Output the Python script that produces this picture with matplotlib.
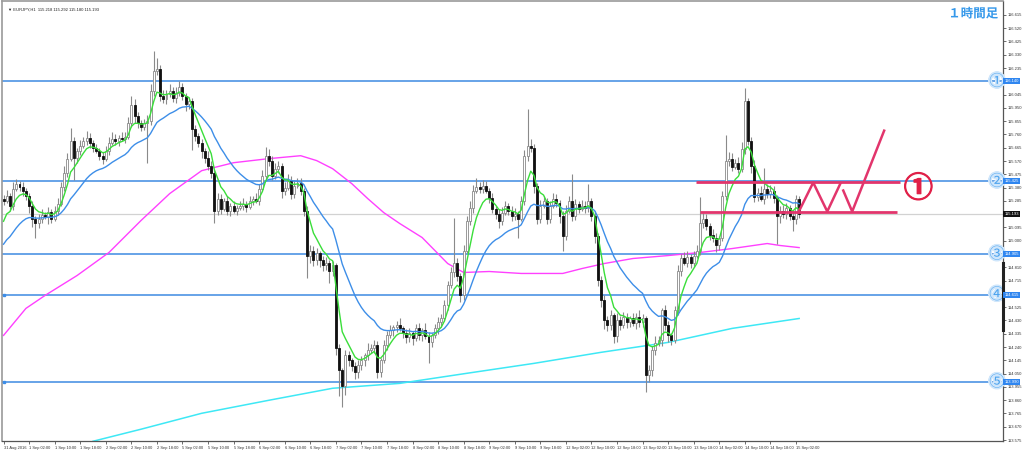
import numpy as np
import matplotlib
matplotlib.use("Agg")
import matplotlib.pyplot as plt
import matplotlib.transforms as mtransforms
import matplotlib.patheffects as pe
from matplotlib.patches import Rectangle

plt.rcParams['font.family'] = ['Liberation Sans', 'DejaVu Sans']

# ---------------- data ----------------
closes = [
 115.287,115.323,115.251,115.373,115.408,115.387,115.358,115.323,115.251,115.158,
 115.130,115.158,115.187,115.173,115.208,115.158,115.216,115.266,115.387,115.487,
 115.587,115.715,115.594,115.644,115.680,115.715,115.737,115.701,115.665,115.644,
 115.608,115.587,115.644,115.701,115.730,115.715,115.737,115.730,115.744,115.844,
 115.972,115.894,115.844,115.815,115.844,115.858,116.072,116.215,116.229,116.037,
 116.015,116.051,116.072,116.022,116.058,116.101,116.037,115.980,116.001,115.801,
 115.751,115.701,115.644,115.594,115.537,115.487,115.216,115.301,115.230,115.287,
 115.216,115.251,115.216,115.237,115.251,115.266,115.244,115.287,115.301,115.287,
 115.373,115.465,115.608,115.573,115.465,115.515,115.537,115.358,115.380,115.430,
 115.337,115.394,115.416,115.358,115.216,114.894,114.930,114.859,114.909,114.859,
 114.823,114.844,114.787,114.823,114.230,114.073,113.959,114.180,114.145,114.102,
 114.059,114.109,114.145,114.180,114.216,114.230,114.252,114.059,114.145,114.252,
 114.323,114.359,114.380,114.394,114.373,114.337,114.309,114.337,114.302,114.373,
 114.323,114.359,114.316,114.273,114.323,114.373,114.416,114.444,114.537,114.680,
 114.773,114.844,114.751,114.609,114.930,115.144,115.237,115.358,115.387,115.373,
 115.394,115.358,115.308,115.230,115.194,115.144,115.201,115.251,115.216,115.180,
 115.194,115.158,115.287,115.608,115.680,115.665,115.394,115.158,115.251,115.287,
 115.158,115.251,115.301,115.273,115.180,115.037,115.216,115.287,115.180,115.266,
 115.230,115.251,115.237,115.287,115.180,115.037,114.716,114.573,114.430,114.394,
 114.466,114.316,114.430,114.394,114.452,114.416,114.444,114.409,114.452,114.416,
 114.444,114.037,114.073,114.216,114.266,114.287,114.502,114.394,114.323,114.287,
 114.502,114.787,114.873,114.844,114.887,114.844,114.894,114.930,115.130,115.158,
 115.108,115.044,115.023,114.966,115.016,115.323,115.573,115.587,115.530,115.558,
 115.515,115.658,116.001,115.715,115.537,115.316,115.344,115.301,115.373,115.337,
 115.358,115.308,115.180,115.216,115.194,115.237,115.180,115.158,115.300,115.193,
]
first_open = 115.300

up_wick = [
 .03,.04,.02,.05,.03,.02,.03,.02,.02,.03,
 .02,.03,.04,.02,.03,.02,.03,.04,.03,.05,
 .04,.09,.03,.02,.04,.03,.05,.03,.02,.03,
 .02,.03,.03,.04,.05,.03,.02,.04,.03,.04,
 .06,.04,.03,.02,.03,.04,.05,.14,.08,.03,
 .04,.03,.05,.03,.04,.04,.03,.02,.03,.02,
 .03,.02,.03,.02,.05,.03,.02,.04,.03,.02,
 .03,.02,.03,.02,.03,.04,.02,.03,.02,.04,
 .03,.04,.06,.05,.03,.04,.03,.02,.04,.05,
 .03,.04,.03,.03,.02,.03,.04,.03,.04,.02,
 .03,.04,.02,.03,.02,.03,.02,.04,.03,.02,
 .03,.04,.03,.02,.05,.03,.04,.03,.02,.04,
 .03,.04,.02,.03,.05,.02,.03,.04,.02,.03,
 .04,.02,.05,.03,.02,.03,.04,.03,.04,.03,
 .04,.32,.03,.02,.04,.03,.05,.04,.06,.03,
 .04,.03,.02,.03,.02,.03,.04,.03,.02,.03,
 .04,.02,.03,.04,.26,.05,.03,.02,.04,.03,
 .02,.03,.04,.03,.02,.03,.04,.03,.19,.03,
 .02,.04,.03,.12,.02,.03,.02,.03,.04,.03,
 .04,.02,.05,.03,.04,.03,.02,.04,.03,.05,
 .03,.02,.04,.03,.05,.03,.02,.04,.03,.02,
 .03,.04,.03,.05,.04,.02,.03,.04,.18,.04,
 .03,.02,.04,.03,.02,.03,.18,.05,.04,.03,
 .04,.05,.09,.02,.03,.04,.03,.05,.15,.03,
 .04,.03,.02,.03,.04,.03,.02,.03,.03,.02,
]
down_wick = [
 .03,.02,.04,.03,.02,.03,.04,.03,.05,.06,
 .11,.04,.03,.02,.05,.03,.02,.03,.02,.03,
 .03,.02,.16,.04,.03,.02,.03,.04,.03,.02,
 .03,.04,.02,.03,.02,.03,.04,.02,.03,.02,
 .03,.05,.04,.03,.02,.29,.03,.04,.03,.04,
 .03,.04,.02,.03,.04,.02,.03,.05,.04,.15,
 .04,.03,.05,.04,.03,.04,.09,.03,.04,.02,
 .03,.04,.02,.03,.02,.03,.04,.02,.03,.02,
 .03,.02,.03,.04,.03,.02,.03,.05,.03,.02,
 .04,.03,.02,.03,.04,.16,.05,.04,.03,.05,
 .04,.03,.09,.04,.05,.18,.15,.06,.04,.03,
 .05,.04,.03,.04,.03,.02,.03,.04,.03,.02,
 .03,.02,.04,.03,.02,.03,.04,.03,.05,.02,
 .03,.04,.02,.15,.03,.02,.04,.03,.02,.03,
 .02,.03,.04,.05,.03,.02,.03,.04,.02,.03,
 .03,.02,.04,.03,.04,.05,.03,.02,.03,.04,
 .03,.14,.02,.03,.04,.03,.05,.04,.03,.02,
 .04,.03,.02,.03,.05,.11,.03,.02,.04,.03,
 .03,.02,.04,.03,.04,.05,.04,.05,.06,.04,
 .03,.05,.04,.03,.02,.04,.03,.02,.04,.03,
 .03,.12,.05,.04,.03,.02,.04,.03,.05,.03,
 .02,.03,.04,.02,.03,.04,.03,.02,.03,.04,
 .03,.04,.03,.05,.03,.02,.03,.04,.03,.02,
 .03,.02,.04,.03,.05,.04,.03,.02,.04,.03,
 .03,.04,.20,.05,.03,.04,.03,.09,.04,.03,
]

# moving averages: fast/medium seeded EMAs, slow lines
green_span, green_seed = 6, 115.08
blue_span, blue_seed = 21, 114.944
magenta_bars = [0, 7, 13, 23, 33, 43, 52, 62, 72, 83, 93, 98, 103, 109, 114, 119, 124,
                131, 135, 139, 144, 152, 162, 175, 181, 188, 197, 208, 218, 228, 239, 243, 249]
magenta_vals = [114.323, 114.516, 114.609, 114.751, 114.916, 115.144, 115.337, 115.501,
                115.558, 115.587, 115.608, 115.573, 115.515, 115.408, 115.301, 115.201,
                115.123, 115.023, 114.930, 114.837, 114.773, 114.780, 114.766, 114.766,
                114.801, 114.837, 114.873, 114.894, 114.916, 114.944, 114.980, 114.966, 114.951]
cyan_bars = [28, 43, 62, 83, 103, 124, 145, 166, 187, 208, 228, 249]
cyan_vals = [113.566, 113.652, 113.766, 113.859, 113.945, 113.980, 114.052, 114.123,
             114.202, 114.273, 114.373, 114.444]

levels = [116.140, 115.425, 114.905, 114.615, 113.990]
level_marks = ['①', '②', '③', '④', '⑤']
current_price = 115.193

tick_start, tick_step, tick_count = 113.575, 0.095, 33
x_labels = ["31 Aug 2016", "1 Sep 02:00", "1 Sep 10:00", "1 Sep 18:00", "2 Sep 02:00",
            "2 Sep 10:00", "2 Sep 18:00", "5 Sep 02:00", "5 Sep 10:00", "5 Sep 18:00",
            "6 Sep 02:00", "6 Sep 10:00", "6 Sep 18:00", "7 Sep 02:00", "7 Sep 10:00",
            "7 Sep 18:00", "8 Sep 02:00", "8 Sep 10:00", "8 Sep 18:00", "9 Sep 02:00",
            "9 Sep 10:00", "9 Sep 18:00", "12 Sep 02:00", "12 Sep 10:00", "12 Sep 18:00",
            "13 Sep 02:00", "13 Sep 10:00", "13 Sep 18:00", "14 Sep 02:00", "14 Sep 10:00",
            "14 Sep 18:00", "15 Sep 02:00"]
label_every = 8

# red scenario drawing (bar position, price)
box_top, box_bottom = 115.420, 115.206
box_top_span = (216.6, 280.6)
box_bottom_span = (218.1, 279.7)
zig1_x = [248.75, 253.4, 257.8, 261.9]
zig1_y = [115.202, 115.416, 115.209, 115.409]
zig2_x = [262.8, 265.6, 275.6]
zig2_y = [115.359, 115.209, 115.787]

header = "EURJPY,H1  115.218 115.292 115.180 115.193"
title = "１時間足"

# ---------------- derived ----------------
closes_a = np.array(closes)
opens_a = np.concatenate([[first_open], closes_a[:-1]])
highs_a = np.maximum(opens_a, closes_a) + np.array(up_wick)
lows_a = np.minimum(opens_a, closes_a) - np.array(down_wick)
idx = np.arange(len(closes_a))

def seeded_ema(vals, span, seed):
    a = 2.0 / (span + 1)
    out = []
    v = seed
    for c in vals:
        v = v + a * (c - v)
        out.append(v)
    return np.array(out)

green = seeded_ema(closes_a, green_span, green_seed)
blue = seeded_ema(closes_a, blue_span, blue_seed)

# ---------------- figure ----------------
fig = plt.figure(figsize=(10.24, 4.51), dpi=100)
ax = fig.add_axes([0.0015, 0.0222, 0.978, 0.9758])
ax.set_xlim(-0.625, 312.8)
ax.set_ylim(113.568, 116.715)

# horizontal levels
line_col = '#5a9ce6'
for lv in levels:
    ax.axhline(lv, color=line_col, lw=1.3, zorder=1)
ax.axhline(current_price, color='#d2d2d2', lw=0.9, zorder=0.9)

# moving averages
ax.plot(cyan_bars, cyan_vals, color='#3ee8f5', lw=1.1, zorder=2)
ax.plot(magenta_bars, magenta_vals, color='#ff40ff', lw=1.0, zorder=2)

# candles
body_w = 0.62
for i in idx:
    o, c, h, l = opens_a[i], closes_a[i], highs_a[i], lows_a[i]
    ax.vlines(i, l, h, color='#8a8a8a', lw=0.8, zorder=3)
    bull = c >= o
    bot = min(o, c)
    hgt = max(abs(c - o), 0.004)
    ax.add_patch(Rectangle((i - body_w / 2, bot), body_w, hgt,
                           facecolor='white' if bull else '#111111',
                           edgecolor='#8a8a8a' if bull else '#111111',
                           lw=0.6, zorder=4))

ax.plot(idx, blue, color='#3d8ee8', lw=1.0, zorder=5)
ax.plot(idx, green, color='#3ade3a', lw=1.0, zorder=5)

# red scenario
red = '#e2356c'
ax.plot(box_top_span, [box_top, box_top], color=red, lw=2.0, zorder=6, solid_capstyle='butt')
ax.plot(box_bottom_span, [box_bottom, box_bottom], color=red, lw=2.0, zorder=6, solid_capstyle='butt')
ax.plot(zig1_x, zig1_y, color=red, lw=1.8, zorder=6)
ax.plot(zig2_x, zig2_y, color=red, lw=1.8, zorder=6)
ax.text(286.3, 115.375, '①', color='#e02048', fontsize=21, fontweight='bold',
        ha='center', va='center', family=['Noto Sans CJK JP', 'DejaVu Sans'], zorder=7,
        path_effects=[pe.withStroke(linewidth=0.8, foreground='#e02048')])

# circled level markers on the right
for lv, m in zip(levels, level_marks):
    ax.text(310.9, lv, m, color='#4aa2ee', fontsize=11, ha='center', va='center',
            family=['Noto Sans CJK JP', 'DejaVu Sans'], zorder=8,
            path_effects=[pe.withStroke(linewidth=2.4, foreground='#cfe6fb')])

# small anchors on left edge
ax.plot([0.0, 0.0], [levels[3], levels[4]], ls='none', marker='s', ms=2,
        color='#3d8ee8', zorder=8, clip_on=False)

# title
ax.text(311.3, 116.622, title, color='#3598ea', fontsize=9, fontweight='bold',
        ha='right', va='center', family=['Noto Sans CJK JP', 'DejaVu Sans'], zorder=8,
        path_effects=[pe.withStroke(linewidth=1.5, foreground='white')])
ax.text(0.006, 0.985, '▼ ' + header, transform=ax.transAxes, fontsize=3.0,
        color='#222222', ha='left', va='top', family=['Liberation Sans', 'DejaVu Sans'])

# axes styling
for s in ['top', 'left']:
    ax.spines[s].set_color('#9a9a9a')
    ax.spines[s].set_linewidth(1.2)
for s in ['right', 'bottom']:
    ax.spines[s].set_color('#555555')
    ax.spines[s].set_linewidth(0.9)

highlighted = levels + [current_price]
yt = [round(tick_start + k * tick_step, 3) for k in range(tick_count)]
ax.yaxis.tick_right()
ax.set_yticks(yt)
ax.set_yticklabels(["" if min(abs(v - h) for h in highlighted) < 0.03 else f"{v:.3f}" for v in yt])
ax.tick_params(axis='y', labelsize=3.0, length=2, width=0.5, pad=1.5, colors='#333333')

xt = list(range(0, label_every * len(x_labels), label_every))
ax.set_xticks(xt)
ax.set_xticklabels(x_labels)
ax.tick_params(axis='x', labelsize=2.9, length=2.5, width=0.5, pad=1.0, colors='#333333')
for t in ax.get_xticklabels():
    t.set_horizontalalignment('left')

# highlighted price labels on the right axis
btrans = mtransforms.blended_transform_factory(ax.transAxes, ax.transData)
for lv in levels:
    ax.text(1.0015, lv, f"{lv:.3f}", transform=btrans, fontsize=3.0, color='white',
            ha='left', va='center', clip_on=False, zorder=10,
            bbox=dict(boxstyle='square,pad=0.25', fc='#2f86f0', ec='none'))
ax.text(1.0015, current_price, f"{current_price:.3f}", transform=btrans, fontsize=3.0,
        color='white', ha='left', va='center', clip_on=False, zorder=10,
        bbox=dict(boxstyle='square,pad=0.25', fc='#111111', ec='none'))
# thick segment on the price scale
ax.plot([1.0, 1.0], [114.36, 114.84], transform=btrans, color='#222222', lw=2.2,
        clip_on=False, zorder=9)

fig.savefig('out.png', dpi=100, facecolor='white')
